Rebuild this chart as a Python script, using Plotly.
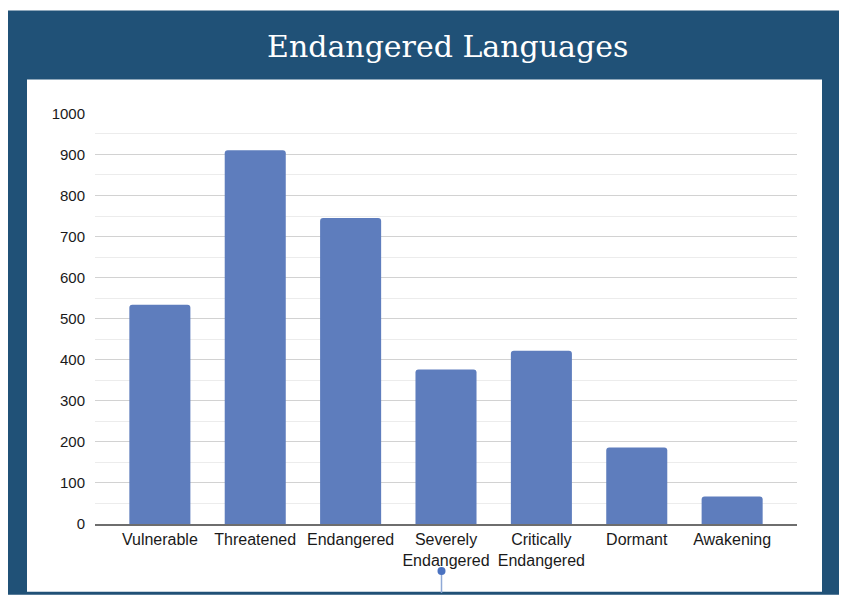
import plotly.graph_objects as go

categories = ["Vulnerable", "Threatened", "Endangered", "Severely<br>Endangered",
              "Critically<br>Endangered", "Dormant", "Awakening"]
values = [534, 910, 745, 376, 422, 186, 67]
y_ticks = [0, 100, 200, 300, 400, 500, 600, 700, 800, 900, 1000]

W, H = 842, 606
# observed vertical placement of the rendered figure in the screenshot
OFF, SCALE = 8.5, 0.973
def px(x): return x / W
def py(y): return 1 - ((y - OFF) / SCALE) / H

fig = go.Figure()
fig.add_trace(go.Bar(
    x=list(range(len(categories))), y=values,
    marker=dict(color="#5e7dbd", line=dict(width=0), cornerradius=3),
    width=0.64, hoverinfo="skip",
))

shapes = [
    dict(type="rect", xref="paper", yref="paper", x0=px(8), x1=px(839), y0=py(595), y1=py(10),
         fillcolor="#205177", line=dict(width=0), layer="below"),
    dict(type="rect", xref="paper", yref="paper", x0=px(27), x1=px(822), y0=py(592), y1=py(79),
         fillcolor="white", line=dict(width=0), layer="below"),
    # small UI handle
    dict(type="line", xref="paper", yref="paper", x0=px(441.5), x1=px(441.5), y0=py(593), y1=py(573),
         line=dict(color="#8fa9d6", width=1.5)),
    dict(type="circle", xref="paper", yref="paper", x0=px(437.5), x1=px(445.5), y0=py(575), y1=py(567),
         fillcolor="#4a72c0", line=dict(width=0)),
]

fig.update_layout(
    width=W, height=H,
    margin=dict(l=0, r=0, t=0, b=0),
    paper_bgcolor="white", plot_bgcolor="rgba(0,0,0,0)",
    showlegend=False, shapes=shapes,
    annotations=[dict(text="Endangered Languages", xref="paper", yref="paper",
                      x=px(447), y=py(46), showarrow=False, xanchor="center", yanchor="middle",
                      font=dict(family="DejaVu Serif", size=30, color="white"))],
    xaxis=dict(domain=[px(95), px(797)], range=[-0.68, 6.68],
               tickmode="array", tickvals=list(range(len(categories))), ticktext=categories,
               showgrid=False, showline=True, linecolor="#6e6e6e", linewidth=1.5,
               ticks="", tickfont=dict(family="Liberation Sans", size=16, color="#1a1a1a"),
               zeroline=False),
    yaxis=dict(domain=[py(524), py(113)], range=[0, 1000],
               tickmode="array", tickvals=y_ticks, ticktext=[str(v) for v in y_ticks],
               showgrid=True, gridcolor="#d2d2d2", gridwidth=1,
               minor=dict(tickmode="array", tickvals=[50, 150, 250, 350, 450, 550, 650, 750, 850, 950],
                          showgrid=True, gridcolor="#ececec", gridwidth=1),
               zeroline=False, ticks="", ticklabelstandoff=9,
               tickfont=dict(family="Liberation Sans", size=15, color="#1a1a1a")),
)

fig.write_html("out.html")
